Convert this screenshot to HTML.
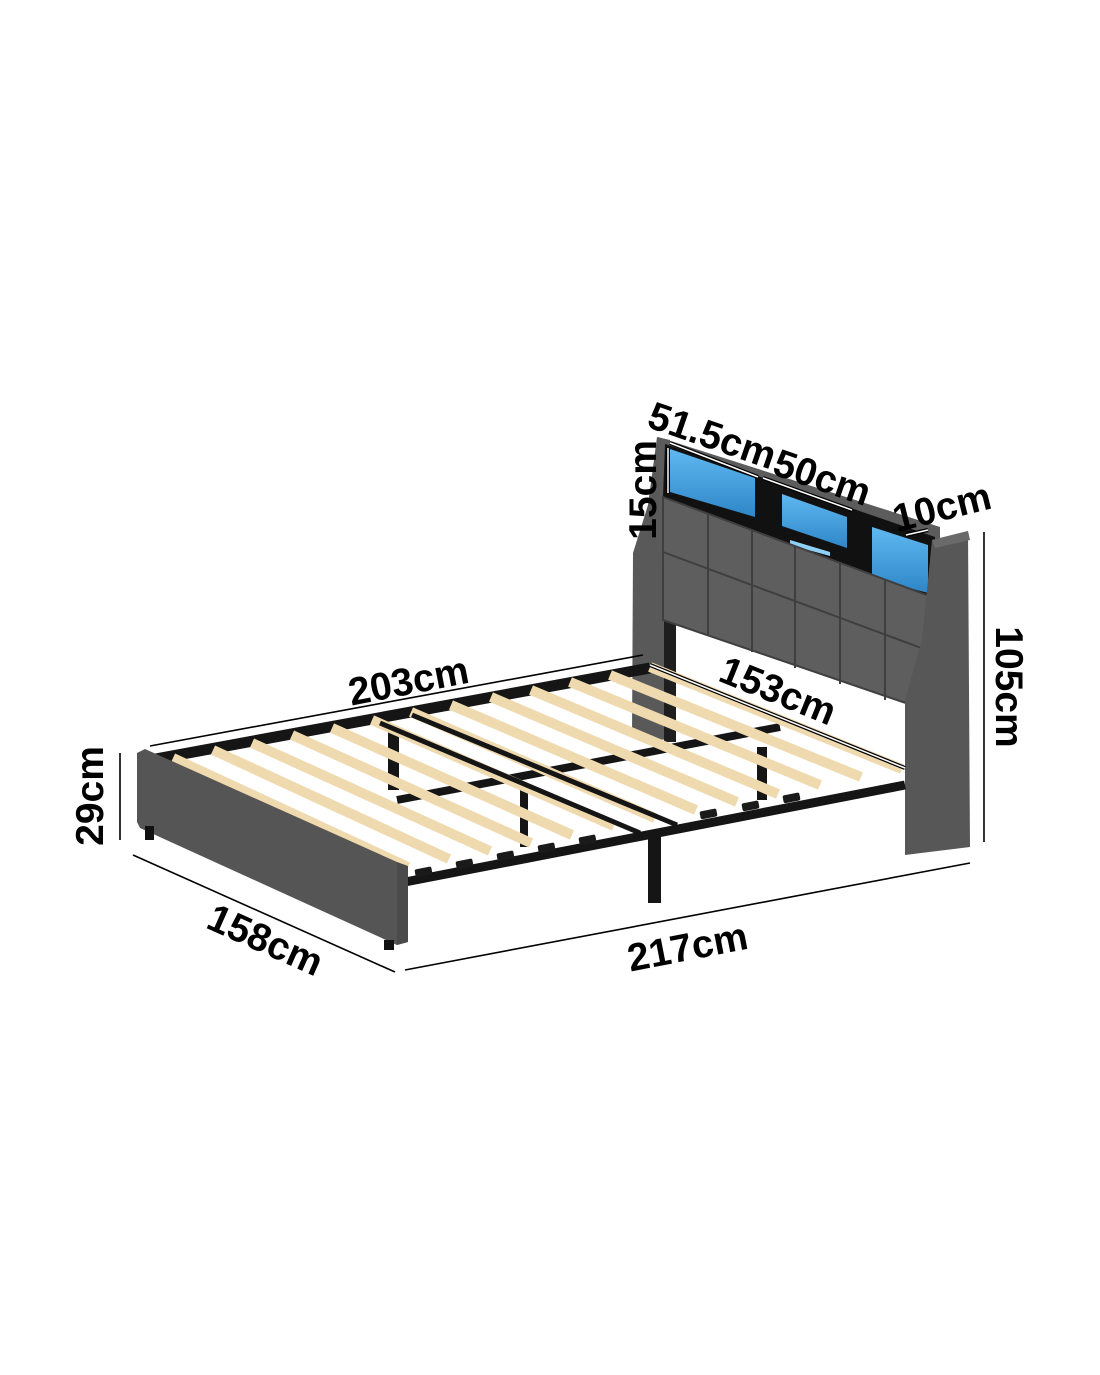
<!DOCTYPE html>
<html><head><meta charset="utf-8"><style>
html,body{margin:0;padding:0;background:#fff}
svg{display:block}
.t{font-family:"Liberation Sans",sans-serif;font-weight:bold;font-size:39px;fill:#000}
</style></head><body>
<svg width="1100" height="1375" viewBox="0 0 1100 1375" xmlns="http://www.w3.org/2000/svg">
<defs>
<linearGradient id="blue" x1="0" y1="0" x2="0" y2="1">
<stop offset="0" stop-color="#5fb8f0"/><stop offset="1" stop-color="#2f86c8"/></linearGradient>
</defs>
<polygon points="657,437 670,440 672,740 632,738 633,553 648,505" fill="#595959"/>
<rect x="664" y="605" width="12" height="137" fill="#1e1e1e"/>
<polygon points="658,437 940,527 940,712 905,703 695,621 663,615" fill="#5c5c5c"/>
<polygon points="665,444 935,537 935,597 885,581 663,497" fill="#111"/>
<polygon points="670,449 755,478 755,517 670,492" fill="url(#blue)"/>
<polygon points="782,494 847,517 847,548 782,526" fill="url(#blue)"/>
<polygon points="872,527 928,545 928,593 872,578" fill="url(#blue)"/>
<polygon points="790,540 830,552 830,556 790,545" fill="#8fd0f5"/>
<g stroke="#3f3f3f" stroke-width="2" fill="none">
<polygon points="663,497 932,597 932,712 663,620" fill="#5e5e5e"/>
<line x1="663" y1="552" x2="932" y2="652"/>
<line x1="708" y1="513" x2="708" y2="636"/>
<line x1="752" y1="530" x2="752" y2="652"/>
<line x1="795" y1="546" x2="795" y2="668"/>
<line x1="840" y1="563" x2="840" y2="684"/>
<line x1="885" y1="580" x2="885" y2="700"/>
</g>
<polygon points="932,540 968,531 970,847 905,855 905,700 922,640" fill="#575757"/>
<polygon points="932,540 968,531 970,540 935,548" fill="#6a6a6a"/>
<line x1="150" y1="760" x2="650" y2="668" stroke="#151515" stroke-width="11"/>
<line x1="397" y1="800" x2="780" y2="727" stroke="#151515" stroke-width="8"/>
<rect x="388" y="727" width="11" height="63" fill="#151515"/>
<rect x="520" y="787" width="8" height="60" fill="#151515"/>
<rect x="757" y="747" width="10" height="53" fill="#151515"/>
<rect x="648" y="835" width="13" height="68" fill="#151515"/>
<g stroke="#efd9ae" stroke-width="10">
<line x1="173" y1="758" x2="408" y2="867"/>
<line x1="213" y1="750" x2="449" y2="859"/>
<line x1="252" y1="743" x2="490" y2="851"/>
<line x1="292" y1="735" x2="531" y2="843"/>
<line x1="332" y1="728" x2="572" y2="835"/>
<line x1="372" y1="720" x2="614" y2="826"/>
<line x1="411" y1="712" x2="655" y2="818"/>
<line x1="451" y1="705" x2="696" y2="810"/>
<line x1="491" y1="697" x2="737" y2="802"/>
<line x1="531" y1="690" x2="778" y2="794"/>
<line x1="570" y1="682" x2="820" y2="785"/>
<line x1="610" y1="675" x2="861" y2="777"/>
<line x1="650" y1="667" x2="902" y2="769"/>
</g>
<line x1="405" y1="882" x2="905" y2="785" stroke="#151515" stroke-width="9"/>
<g fill="#1a1a1a">
<rect x="415" y="868" width="17" height="8" rx="2" transform="rotate(-11 423 872)"/>
<rect x="456" y="860" width="17" height="8" rx="2" transform="rotate(-11 464 864)"/>
<rect x="497" y="852" width="17" height="8" rx="2" transform="rotate(-11 505 856)"/>
<rect x="538" y="844" width="17" height="8" rx="2" transform="rotate(-11 546 848)"/>
<rect x="579" y="836" width="17" height="8" rx="2" transform="rotate(-11 587 840)"/>
<rect x="700" y="810" width="17" height="8" rx="2" transform="rotate(-11 708 814)"/>
<rect x="742" y="802" width="17" height="8" rx="2" transform="rotate(-11 750 806)"/>
<rect x="783" y="794" width="17" height="8" rx="2" transform="rotate(-11 791 798)"/>
</g>
<line x1="380" y1="723" x2="640" y2="833" stroke="#151515" stroke-width="5"/>
<line x1="412" y1="715" x2="677" y2="825" stroke="#151515" stroke-width="5"/>
<polygon points="137,753 145,749 397,862 408,869 408,942 397,945 140,828 137,822" fill="#555"/>
<polygon points="397,862 408,866 408,942 397,945" fill="#4a4a4a"/>
<rect x="145" y="826" width="9" height="14" fill="#111"/>
<rect x="384" y="940" width="10" height="10" fill="#111"/>
<g stroke="#000" stroke-width="1.6">
<line x1="150" y1="746" x2="643" y2="655"/>
<line x1="120" y1="753" x2="120" y2="840"/>
<line x1="133" y1="855" x2="395" y2="972"/>
<line x1="405" y1="970" x2="970" y2="863"/>
<line x1="984" y1="532" x2="984" y2="842"/>
</g>
<g stroke="#000" stroke-width="4"><line x1="650" y1="665" x2="905" y2="768"/>
<line x1="670" y1="443" x2="758" y2="477"/><line x1="763" y1="478" x2="852" y2="510"/>
<line x1="906" y1="535" x2="928" y2="530"/><line x1="668" y1="448" x2="668" y2="493"/></g>
<g stroke="#fff" stroke-width="1.5"><line x1="650" y1="665" x2="905" y2="768"/>
<line x1="670" y1="443" x2="758" y2="477"/><line x1="763" y1="478" x2="852" y2="510"/>
<line x1="906" y1="535" x2="928" y2="530"/><line x1="668" y1="448" x2="668" y2="493"/></g>
<text class="t" text-anchor="middle" transform="translate(411,694) rotate(-11)">203cm</text>
<text class="t" text-anchor="middle" transform="translate(773,703) rotate(22)">153cm</text>
<text class="t" text-anchor="middle" transform="translate(103,796) rotate(-90)">29cm</text>
<text class="t" text-anchor="middle" transform="translate(260,952) rotate(24)">158cm</text>
<text class="t" text-anchor="middle" transform="translate(690,960) rotate(-11)">217cm</text>
<text class="t" text-anchor="middle" transform="translate(996,687) rotate(90)">105cm</text>
<text class="t" text-anchor="middle" transform="translate(656,490) rotate(-90)">15cm</text>
<text class="t" text-anchor="middle" transform="translate(708,448) rotate(19)">51.5cm</text>
<text class="t" text-anchor="middle" transform="translate(818,490) rotate(19)">50cm</text>
<text class="t" text-anchor="middle" transform="translate(945,520) rotate(-14)">10cm</text>
</svg>
</body></html>
